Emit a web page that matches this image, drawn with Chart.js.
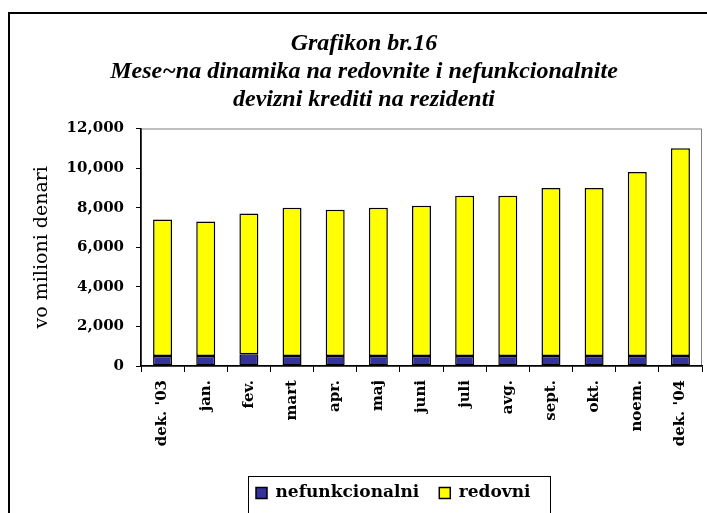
<!DOCTYPE html>
<html>
<head>
<meta charset="utf-8">
<script src="https://cdn.jsdelivr.net/npm/chart.js@4.4.1/dist/chart.umd.min.js"></script>
<style>
  html, body { margin: 0; padding: 0; background: #fff; }
  #wrap { width: 707px; height: 513px; }
</style>
</head>
<body>
<div id="wrap"><canvas id="myChart" width="707" height="513"></canvas></div>
<script>
// months on the x axis
const months = ["dek. '03", "jan.", "fev.", "mart", "apr.", "maj", "juni", "juli", "avg.", "sept.", "okt.", "noem.", "dek. '04"];
// millions of denars
const nefunkcionalni = [500, 500, 600, 500, 500, 500, 500, 500, 500, 500, 500, 500, 500];
const redovni = [6900, 6800, 7100, 7500, 7400, 7500, 7600, 8100, 8100, 8500, 8500, 9300, 10500];
const titleLines = ["Grafikon br.16", "Mese~na dinamika na redovnite i nefunkcionalnite", "devizni krediti na rezidenti"];
const yTitle = "vo milioni denari";

const serifBold = { family: "'DejaVu Serif', serif", size: 15, weight: "bold" };

//frame, plot area box, legend box and re-centering of title/legend
const framePlugin = {
  id: "frame",
  afterLayout(chart) {
    const t = chart.titleBlock;
    const half = (t.right - t.left) / 2;
    t.left = 364 - half;
    t.right = 364 + half;
    chart.legend.left = 236;
  },
  beforeDraw(chart) {
    const ctx = chart.ctx;
    const a = chart.chartArea;
    ctx.save();
    ctx.strokeStyle = "#000";
    ctx.lineWidth = 2;
    ctx.strokeRect(9, 13, 760, 560);
    ctx.strokeStyle = "#808080";
    ctx.lineWidth = 1;
    ctx.strokeRect(a.left + 0.5, a.top + 0.5, a.right - a.left - 1, a.bottom - a.top);
    ctx.restore();
  },
  afterDraw(chart) {
    const hb = chart.legend.legendHitBoxes;
    if (!hb || !hb.length) return;
    const last = hb[hb.length - 1];
    const x0 = Math.round(hb[0].left - 8) + 0.5;
    const x1 = Math.round(last.left + last.width + 20) + 0.5;
    const ctx = chart.ctx;
    ctx.save();
    ctx.strokeStyle = "#000";
    ctx.lineWidth = 1;
    ctx.strokeRect(x0, Math.round(chart.legend.top + 11) + 0.5, x1 - x0, 60);
    ctx.restore();
  }
};

const data = {
  labels: months,
  datasets: [
    {
      label: "nefunkcionalni",
      data: nefunkcionalni,
      backgroundColor: "#333399",
      borderColor: "#000",
      borderWidth: 1.5,
      borderSkipped: false,
    },
    {
      label: "redovni",
      data: redovni,
      backgroundColor: "#FFFF00",
      borderColor: "#000",
      borderWidth: 1.5,
      borderSkipped: false,
    },
  ],
};

const config = {
  type: "bar",
  data: data,
  plugins: [framePlugin],
  options: {
    responsive: false,
    animation: false,
    layout: { padding: { left: 10, right: 5, top: 0, bottom: 1.5 } },
    datasets: { bar: { barPercentage: 0.44, categoryPercentage: 1 } },
    plugins: {
      title: {
        display: true,
        text: titleLines,
        color: "#000",
        font: { family: "'Liberation Serif', serif", size: 24, weight: "bold", style: "italic", lineHeight: 28 / 24 },
        padding: { top: 30, bottom: 14.5 },
      },
      legend: {
        position: "bottom",
        align: "start",
        labels: {
          color: "#000",
          font: { family: "'DejaVu Serif', serif", size: 17, weight: "bold" },
          boxWidth: 11,
          boxHeight: 11,
          padding: 20,
        },
      },
      tooltip: { enabled: false },
    },
    scales: {
      x: {
        stacked: true,
        afterFit(scale) { scale.height = 98.5; },
        grid: { offset: true, drawOnChartArea: false, drawTicks: true, tickLength: 6, color: "#000" },
        border: { color: "#000", width: 1.5 },
        ticks: { color: "#000", font: serifBold, maxRotation: 90, minRotation: 90, autoSkip: false, padding: 8 },
      },
      y: {
        stacked: true,
        min: 0,
        max: 12000,
        afterFit(scale) { scale.width = 131; },
        grid: { drawOnChartArea: false, drawTicks: true, tickLength: 5, color: "#000" },
        border: { color: "#000", width: 1.5 },
        ticks: { stepSize: 2000, color: "#000", font: serifBold, padding: 12 },
        title: {
          display: true,
          text: yTitle,
          color: "#000",
          font: { family: "'DejaVu Serif', serif", size: 19 },
          padding: { top: 21, bottom: 0 },
        },
      },
    },
  },
};

const myChart = new Chart(document.getElementById("myChart"), config);
</script>
</body>
</html>
